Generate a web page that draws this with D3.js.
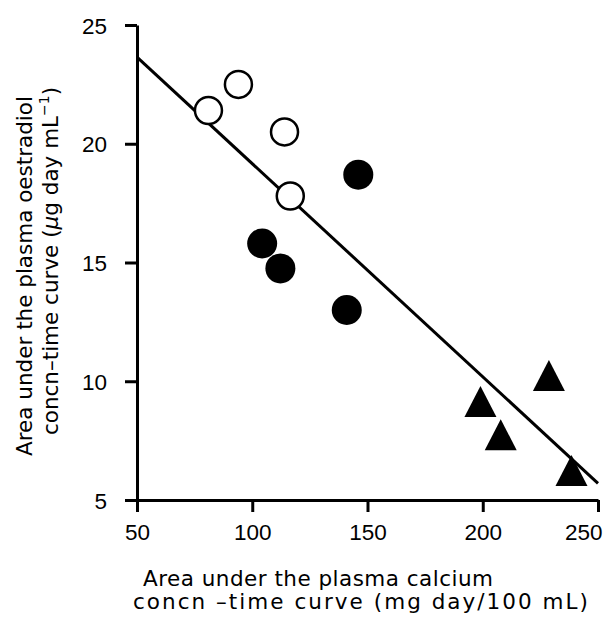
<!DOCTYPE html>
<html lang="en">
<head>
<meta charset="UTF-8"/>
<title>Oestradiol vs calcium AUC</title>
<script src="https://d3js.org/d3.v7.min.js"></script>
<style>
  body { margin: 0; background: #fff; }
  svg { display: block; font-family: "DejaVu Sans", sans-serif; }
  .axis path, .axis line { stroke: #000; stroke-width: 3; }
  .axis text { font-size: 22.5px; fill: #000; }
  .title { font-size: 21.5px; fill: #000; }
</style>
</head>
<body>
<svg width="607" height="619"></svg>
<script>
// x: area under calcium curve, y: area under oestradiol curve
const openX = [81, 94, 114, 116.5];
const openY = [21.4, 22.5, 20.5, 17.8];
const filledX = [146, 104.3, 112.2, 141];
const filledY = [18.7, 15.8, 14.75, 13.0];
const triX = [228.7, 199, 207.8, 238.5];
const triY = [10.1, 9.0, 7.6, 6.1];
const fitX = [50, 250];
const fitY = [23.65, 5.7];
const xTicks = [50, 100, 150, 200, 250];
const yTicks = [5, 10, 15, 20, 25];

const svg = d3.select('svg');

const x = d3.scaleLinear().domain([50, 250]).range([137, 598]);
const y = d3.scaleLinear().domain([5, 25]).range([500, 25]);

svg.append('g')
  .attr('class', 'axis')
  .attr('transform', `translate(0, ${y(5)})`)
  .call(d3.axisBottom(x).tickValues(xTicks).tickSize(12).tickSizeOuter(0).tickPadding(12))
  .call(g => g.selectAll('text').attr('dy', '0.72em'))
  .call(g => g.selectAll('.tick').filter(d => d === 250).select('text')
    .attr('text-anchor', 'end').attr('x', 4));

svg.append('g')
  .attr('class', 'axis')
  .attr('transform', `translate(${x(50)}, 0)`)
  .call(d3.axisLeft(y).tickValues(yTicks).tickSize(12).tickSizeOuter(0).tickPadding(18))
  .call(g => g.selectAll('text').attr('dy', '0.36em'));

// regression line
svg.append('line')
  .attr('x1', x(fitX[0])).attr('y1', y(fitY[0]))
  .attr('x2', x(fitX[1])).attr('y2', y(fitY[1]))
  .attr('stroke', '#000').attr('stroke-width', 3);

svg.append('g').selectAll('circle')
  .data(openX.map((d, i) => [d, openY[i]]))
  .join('circle')
  .attr('cx', d => x(d[0])).attr('cy', d => y(d[1]))
  .attr('r', 13.5)
  .attr('fill', '#fff').attr('stroke', '#000').attr('stroke-width', 2.5);

svg.append('g').selectAll('circle')
  .data(filledX.map((d, i) => [d, filledY[i]]))
  .join('circle')
  .attr('cx', d => x(d[0])).attr('cy', d => y(d[1]))
  .attr('r', 15)
  .attr('fill', '#000');

svg.append('g').selectAll('path')
  .data(triX.map((d, i) => [d, triY[i]]))
  .join('path')
  .attr('transform', d => `translate(${x(d[0])}, ${y(d[1])})`)
  .attr('d', 'M0,-19L16,12L-16,12Z')
  .attr('fill', '#000');

// axis titles
svg.append('text').attr('class', 'title')
  .attr('x', 143).attr('y', 586)
  .attr('textLength', 350).attr('lengthAdjust', 'spacing')
  .text('Area under the plasma calcium');
svg.append('text').attr('class', 'title')
  .attr('x', 133).attr('y', 609)
  .attr('font-size', '22.5px')
  .attr('textLength', 455).attr('lengthAdjust', 'spacing')
  .text('concn \u2013time curve (mg day/100 mL)');

svg.append('text').attr('class', 'title')
  .attr('transform', 'translate(32, 276) rotate(-90)')
  .attr('text-anchor', 'middle')
  .text('Area under the plasma oestradiol');

const t2 = svg.append('text').attr('class', 'title')
  .attr('transform', 'translate(58, 261) rotate(-90)')
  .attr('text-anchor', 'middle');
t2.append('tspan').text('concn\u2013time curve (');
t2.append('tspan').attr('font-style', 'italic').text('\u03bc');
t2.append('tspan').text('g day mL');
t2.append('tspan').attr('font-size', '14px').attr('dy', '-9').text('\u22121');
t2.append('tspan').attr('dy', '9').text(')');
</script>
</body>
</html>
